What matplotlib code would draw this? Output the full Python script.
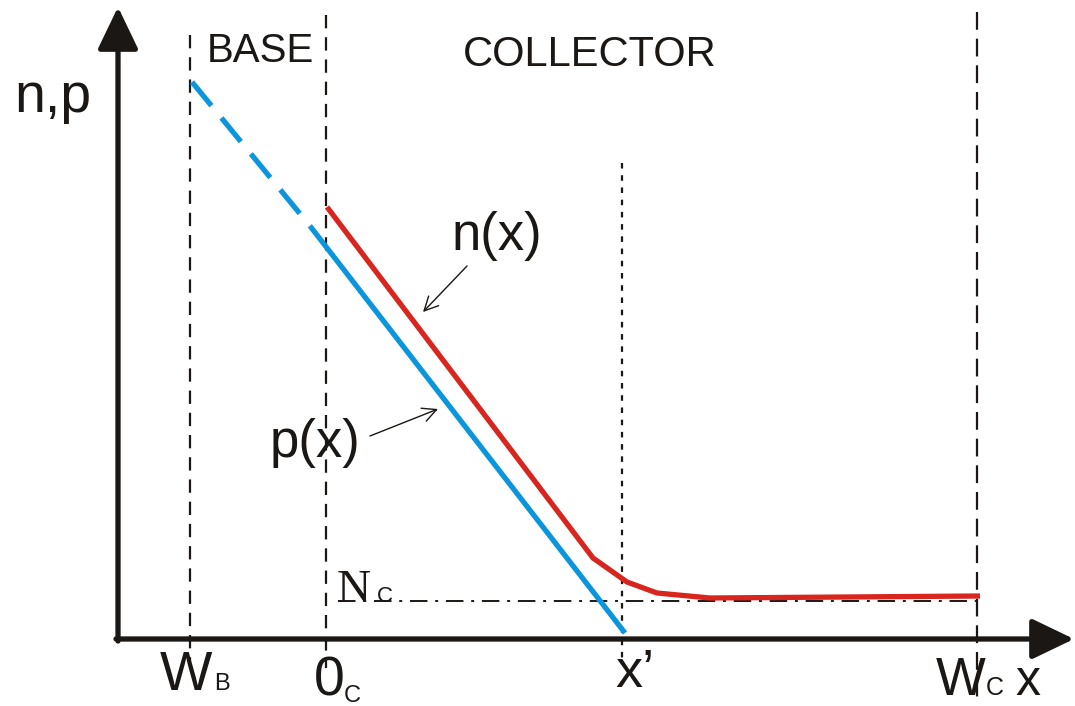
import matplotlib
matplotlib.use("Agg")
import matplotlib.pyplot as plt

plt.rcParams['font.family'] = ['Liberation Sans', 'DejaVu Sans']

# ---- data (schematic coordinates: x to the right, y downward as in the drawing) ----
# boundary positions along x
x_WB = 190
x_0C = 326
x_xp = 622
x_WC = 977

# blue p(x): dashed extension in the base, solid in the collector
p_dash_x = [192, 310]
p_dash_y = [82, 226]
p_sol_x = [310, 625]
p_sol_y = [226, 633]

# red n(x)
n_x = [327, 593, 627, 657, 710, 980]
n_y = [207, 558, 582, 593, 598, 596]

# doping level N_C
nc_x = [338, 977]
nc_y = [601, 601]

# axes
axis_origin = (118, 639)
yaxis_tip = (118, 7)
xaxis_tip = (1074, 639)

# vertical boundary extents (top, bottom)
v_WB = (35, 662)
v_0C = (15, 668)
v_xp = (163, 662)
v_WC = (12, 702)

fig = plt.figure(figsize=(10.75, 7.06), dpi=100)
ax = fig.add_axes([0, 0, 1, 1])
ax.set_xlim(0, 1075)
ax.set_ylim(706, 0)
ax.axis('off')

K = '#1a1714'
RED = '#d8251e'
BLUE = '#0a95dc'

# boundary lines
ax.plot([x_WB, x_WB], v_WB, color=K, lw=1.6, ls=(0, (6, 4)))
ax.plot([x_0C, x_0C], v_0C, color=K, lw=1.6, ls=(0, (6, 4)))
ax.plot([x_xp, x_xp], v_xp, color=K, lw=1.6, ls=(0, (2.5, 3)))
ax.plot([x_WC, x_WC], v_WC, color=K, lw=1.6, ls=(0, (8, 4)))

# N_C dash-dot
ax.plot(nc_x, nc_y, color=K, lw=1.4, ls=(0, (9, 4, 1.5, 4)))

# curves
ax.plot(p_dash_x, p_dash_y, color=BLUE, lw=3.8, ls=(0, (5.8, 3.0)), solid_capstyle='butt')
ax.plot(p_sol_x, p_sol_y, color=BLUE, lw=3.8, solid_capstyle='butt')
ax.plot(n_x, n_y, color=RED, lw=3.8, solid_joinstyle='miter', solid_capstyle='butt')

# axes with arrows
ax.annotate('', xy=yaxis_tip, xytext=(axis_origin[0], axis_origin[1] + 2),
            arrowprops=dict(arrowstyle='-|>,head_length=26,head_width=12.5',
                            mutation_scale=1, lw=3.8, color=K, shrinkA=0, shrinkB=0))
ax.annotate('', xy=xaxis_tip, xytext=(axis_origin[0] - 2, axis_origin[1]),
            arrowprops=dict(arrowstyle='-|>,head_length=26,head_width=12.5',
                            mutation_scale=1, lw=3.8, color=K, shrinkA=0, shrinkB=0))

# label arrows
ax.annotate('', xy=(423, 312), xytext=(467, 266),
            arrowprops=dict(arrowstyle='->,head_length=10,head_width=5', mutation_scale=1,
                            lw=1.0, color=K, shrinkA=0, shrinkB=0))
ax.annotate('', xy=(438, 409), xytext=(370, 436),
            arrowprops=dict(arrowstyle='->,head_length=10,head_width=5', mutation_scale=1,
                            lw=1.0, color=K, shrinkA=0, shrinkB=0))

# texts
ax.text(14, 112, 'n,p', fontsize=40, color=K, va='baseline', ha='left')
ax.text(207, 62, 'BASE', fontsize=29, color=K, va='baseline', ha='left')
ax.text(463, 66, 'COLLECTOR', fontsize=30, color=K, va='baseline', ha='left')
ax.text(452, 250, 'n(x)', fontsize=38, color=K, va='baseline', ha='left')
ax.text(270, 457, 'p(x)', fontsize=38, color=K, va='baseline', ha='left')

ax.text(337, 602, 'N', fontsize=34, color=K, va='baseline', ha='left',
        family=['Liberation Serif', 'DejaVu Serif'])
ax.text(377, 602, 'C', fontsize=16, color=K, va='baseline', ha='left')

ax.text(160, 690, 'W', fontsize=40, color=K, va='baseline', ha='left')
ax.text(214, 690, 'B', fontsize=17, color=K, va='baseline', ha='left')
ax.text(314, 695, '0', fontsize=40, color=K, va='baseline', ha='left')
ax.text(344, 702, 'C', fontsize=17, color=K, va='baseline', ha='left')
ax.text(615, 687, 'x’', fontsize=39, color=K, va='baseline', ha='left')
ax.text(936, 695, 'W', fontsize=38, color=K, va='baseline', ha='left')
ax.text(986, 695, 'C', fontsize=18, color=K, va='baseline', ha='left')
ax.text(1015, 695, 'x', fontsize=36, color=K, va='baseline', ha='left')

fig.savefig('out.png', dpi=100)
